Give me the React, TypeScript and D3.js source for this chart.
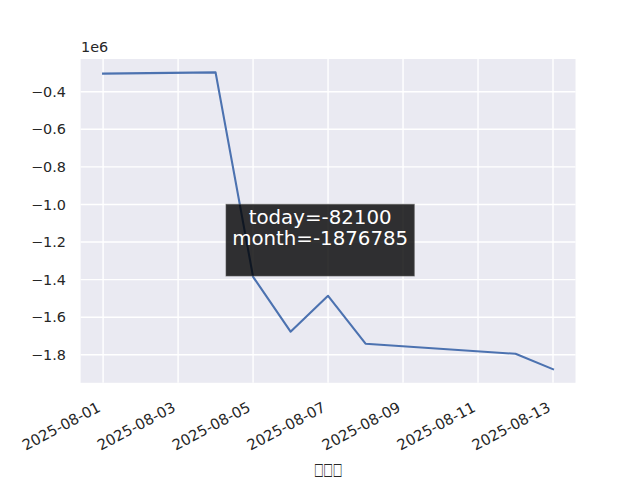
import React from "react";
import * as d3 from "d3";

const dates = ["2025-08-01", "2025-08-04", "2025-08-05", "2025-08-06", "2025-08-07", "2025-08-08", "2025-08-12", "2025-08-13"];
const values = [-304000, -297000, -1385000, -1677000, -1486000, -1741000, -1794685, -1876785];
const yTicks = [-0.4, -0.6, -0.8, -1.0, -1.2, -1.4, -1.6, -1.8];
const xTickLabels = ["2025-08-01", "2025-08-03", "2025-08-05", "2025-08-07", "2025-08-09", "2025-08-11", "2025-08-13"];
const annotationLines = ["today=-82100", "month=-1876785"];
const xLabel = "□□□";
const offsetLabel = "1e6";

const W = 640;
const H = 480;
const left = 80.6;
const right = 575.5;
const top = 59;
const bottom = 382.8;

const parse = d3.utcParse("%Y-%m-%d");

export default function App() {
  const x = d3
    .scaleUtc()
    .domain([new Date(Date.UTC(2025, 6, 31, 9, 36)), new Date(Date.UTC(2025, 7, 13, 14, 24))])
    .range([left, right]);
  const y = d3.scaleLinear().domain([-1.949, -0.226]).range([bottom, top]);

  const pts = dates.map((d, i) => [x(parse(d) as Date), y(values[i] / 1e6)] as [number, number]);
  const line = d3.line()(pts) || "";

  const font = "DejaVu Sans, sans-serif";
  const txt = "#262626";

  const boxX = 226;
  const boxY = 204.3;
  const boxW = 188.3;
  const boxH = 71.7;
  const cx = boxX + boxW / 2;

  return (
    <svg
      width={W}
      height={H}
      viewBox={`0 0 ${W} ${H}`}
      style={{ position: "absolute", left: 0, top: 0, display: "block", background: "#fff" }}
    >
      <rect x={left} y={top} width={right - left} height={bottom - top} fill="#EAEAF2" />
      {xTickLabels.map((t) => {
        const xx = x(parse(t) as Date);
        return <line key={"gx" + t} x1={xx} x2={xx} y1={top} y2={bottom} stroke="#fff" strokeWidth={1.4} />;
      })}
      {yTicks.map((t) => (
        <line key={"gy" + t} x1={left} x2={right} y1={y(t)} y2={y(t)} stroke="#fff" strokeWidth={1.4} />
      ))}
      <path d={line} fill="none" stroke="#4C72B0" strokeWidth={2.1} strokeLinejoin="round" strokeLinecap="square" />

      {yTicks.map((t) => (
        <text
          key={"ty" + t}
          x={66}
          y={y(t) + 5.2}
          textAnchor="end"
          fontFamily={font}
          fontSize={14.4}
          fill={txt}
        >
          {d3.format(".1f")(t).replace("-", "\u2212")}
        </text>
      ))}
      <text x={81} y={52.3} fontFamily={font} fontSize={14.4} fill={txt}>
        {offsetLabel}
      </text>

      {xTickLabels.map((t) => {
        const xx = x(parse(t) as Date);
        return (
          <text
            key={"tx" + t}
            transform={`translate(${xx - 1.5},${410.5}) rotate(-28)`}
            textAnchor="end"
            fontFamily={font}
            fontSize={14.8}
            fill={txt}
          >
            {t}
          </text>
        );
      })}
      <text
        x={328}
        y={474.5}
        textAnchor="middle"
        fontFamily={font}
        fontSize={17}
        fill={txt}
        textLength={28}
        lengthAdjust="spacingAndGlyphs"
      >
        {xLabel}
      </text>

      <rect x={boxX} y={boxY} width={boxW} height={boxH} fill="#000" fillOpacity={0.8} stroke="#555" strokeOpacity={0.6} strokeWidth={1} />
      <text textAnchor="middle" fontFamily={font} fontSize={19.8} fill="#fff">
        {annotationLines.map((l, i) => (
          <tspan key={l} x={cx} y={224.3 + i * 20.7}>
            {l}
          </tspan>
        ))}
      </text>
    </svg>
  );
}
